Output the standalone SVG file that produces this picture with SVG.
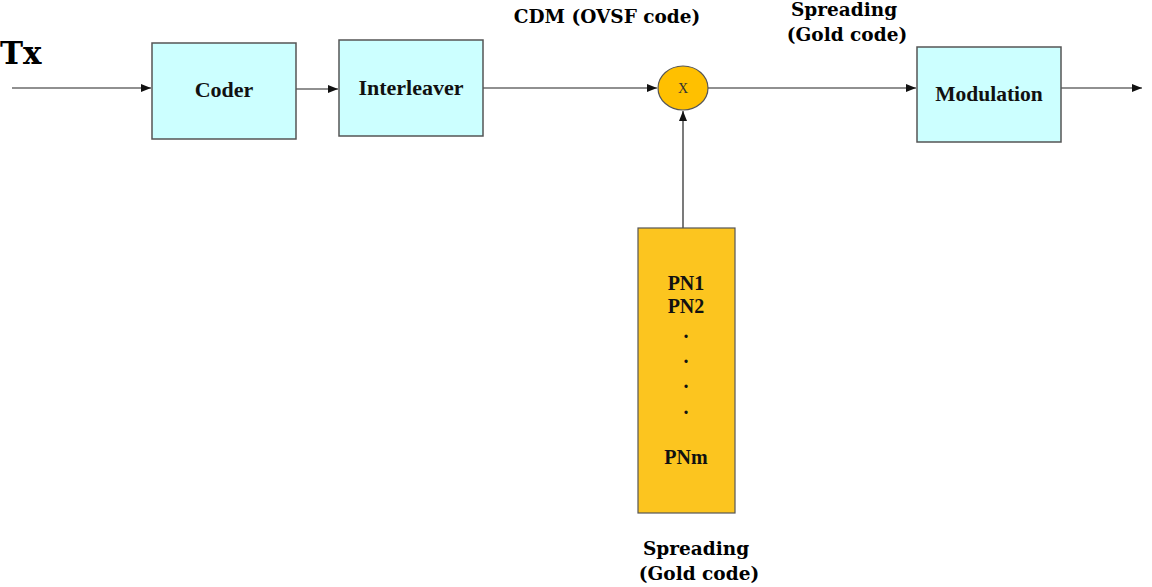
<svg xmlns="http://www.w3.org/2000/svg" width="1152" height="587" viewBox="0 0 1152 587">
<style>
.box{fill:#ccffff;stroke:#555;stroke-width:1.5}
.lbl{font-family:"Liberation Serif",serif;font-weight:bold;font-size:22px;fill:#111;text-anchor:middle}
.hdr{font-family:"DejaVu Serif","Liberation Serif",serif;font-weight:bold;font-size:18.5px;fill:#000;text-anchor:middle}
.pn{font-family:"Liberation Serif",serif;font-weight:bold;font-size:20px;fill:#111;text-anchor:middle}
.ln{stroke:#222;stroke-width:1.2;fill:none;marker-end:url(#ah)}
</style>
<defs>
<marker id="ah" markerWidth="10" markerHeight="8" refX="10" refY="4" orient="auto" markerUnits="userSpaceOnUse">
<path d="M0,0 L10,4 L0,8 Z" fill="#111"/>
</marker>
</defs>
<rect width="1152" height="587" fill="#fff"/>
<text x="0" y="64" font-family="DejaVu Serif,Liberation Serif,serif" font-weight="bold" font-size="31" fill="#000">Tx</text>
<g id="connectors">
<line class="ln" x1="12" y1="88" x2="151" y2="88"/>
<line class="ln" x1="296" y1="89" x2="338" y2="89"/>
<line class="ln" x1="483" y1="88" x2="657" y2="88"/>
<line class="ln" x1="708" y1="88" x2="916" y2="88"/>
<line class="ln" x1="1061" y1="88" x2="1142" y2="88"/>
<line class="ln" x1="683" y1="228" x2="683" y2="111"/>
</g>
<g id="coder"><rect class="box" x="152" y="43" width="144" height="96"/><text class="lbl" x="224" y="97">Coder</text></g>
<g id="interleaver"><rect class="box" x="339" y="40" width="144" height="96"/><text class="lbl" x="411" y="95">Interleaver</text></g>
<g id="mixer"><ellipse cx="683" cy="88" rx="25" ry="22" fill="#ffc000" stroke="#555" stroke-width="1.2"/><text x="683" y="93" font-family="Liberation Serif,serif" font-size="14" text-anchor="middle" fill="#333">X</text></g>
<g id="modulation"><rect class="box" x="917" y="47" width="144" height="95"/><text class="lbl" x="989" y="101" style="font-size:21.5px">Modulation</text></g>
<g id="pn"><rect x="638" y="228" width="97" height="285" fill="#fcc51f" stroke="#555" stroke-width="1.2"/>
<text class="pn" x="686" y="290">PN1</text>
<text class="pn" x="686" y="313">PN2</text>
<text class="pn" x="686" y="338">.</text>
<text class="pn" x="686" y="363">.</text>
<text class="pn" x="686" y="388">.</text>
<text class="pn" x="686" y="414">.</text>
<text class="pn" x="686" y="464">PNm</text>
</g>
<text class="hdr" x="607" y="23">CDM (OVSF code)</text>
<text class="hdr" x="844" y="16">Spreading</text>
<text class="hdr" x="847" y="41">(Gold code)</text>
<text class="hdr" x="696" y="555">Spreading</text>
<text class="hdr" x="699" y="580">(Gold code)</text>
</svg>
